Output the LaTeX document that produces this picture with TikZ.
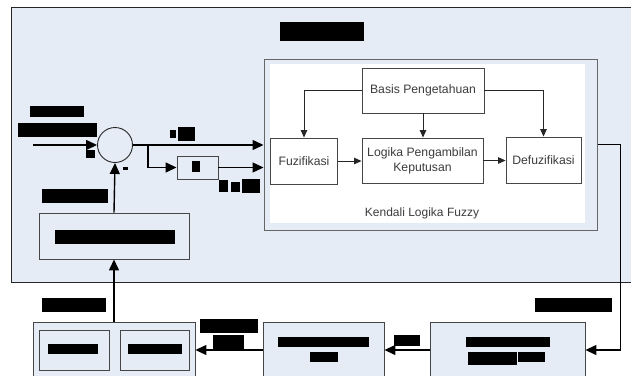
\documentclass[tikz,border=0pt]{standalone}
\usepackage{fontspec}
\setmainfont{Liberation Sans}
\usetikzlibrary{arrows.meta,positioning}
\definecolor{paneltint}{RGB}{230,236,246}
\definecolor{boxline}{RGB}{70,70,70}
\definecolor{txt}{RGB}{60,60,60}
\tikzset{
  bigarrow/.style={line width=1.4pt,-{Triangle[length=11pt,width=10pt]}},
  smallarrow/.style={line width=0.9pt,draw=black!85,-{Triangle[length=7.5pt,width=6.5pt]}},
  fuzzybox/.style={draw=boxline,line width=0.9pt,fill=white,inner sep=0pt,
    font=\fontsize{12.2}{15}\selectfont,text=txt,align=center},
  tintbox/.style={draw=boxline,line width=0.9pt,fill=paneltint,inner sep=0pt},
  redact/.style={fill=black}
}
\begin{document}
\begin{tikzpicture}[x=1pt,y=-1pt]
\useasboundingbox (0,0) rectangle (631,375);
\begin{scope}
\clip (0,0) rectangle (631,375);

% controller panel
\path[draw=black!85,line width=1pt,fill=paneltint] (11,7) rectangle (660,282);
\fill[redact] (280,22) rectangle (364,41);

% fuzzy logic controller block
\node[draw=black!60,line width=1pt,fill=paneltint,minimum width=333pt,minimum height=171pt,inner sep=0pt]
  (flc) at (430.5,144.5) {};
\fill[white] (270,64) rectangle (585,223);

\node[fuzzybox,minimum width=122pt,minimum height=45pt] (basis) at (423,90.5) {Basis Pengetahuan};
\node[fuzzybox,minimum width=67pt,minimum height=46pt] (fuzi) at (304,161) {Fuzifikasi};
\node[fuzzybox,minimum width=121pt,minimum height=45pt] (logika) at (422.5,160.5) {Logika Pengambilan\\Keputusan};
\node[fuzzybox,minimum width=75pt,minimum height=46pt] (defuzi) at (543.5,160) {Defuzifikasi};
\node[font=\fontsize{12}{14}\selectfont,text=txt] (kendali) at (422,213) {Kendali Logika Fuzzy};

\draw[smallarrow] (basis.west) -| (fuzi.north);
\draw[smallarrow] (basis.east) -| (defuzi.north);
\draw[smallarrow] (basis.south) -- (basis.south |- logika.north);
\draw[smallarrow] (fuzi.east) -- (fuzi.east -| logika.west);
\draw[smallarrow] (logika.east) -- (logika.east -| defuzi.west);

% summing junction and derivative
\node[circle,draw=black!85,line width=0.9pt,fill=paneltint,minimum size=35pt,inner sep=0pt] (sum) at (115,145) {};
\node[tintbox,minimum width=41pt,minimum height=23pt] (ddt) at (197.5,167.5) {};
\coordinate (in) at (33,145);
\coordinate (br) at (148,145);

\draw[bigarrow] (in) -- (sum.west);
\draw[bigarrow] (sum.east) -- (sum.east -| flc.west);
\draw[bigarrow] (br) |- (ddt.west);
\draw[bigarrow] (ddt.east) -- (ddt.east -| flc.west);

% feedback sensor block
\node[tintbox,minimum width=150pt,minimum height=46pt] (fb) at (114,236) {};
\draw[bigarrow] (fb.north) -- (sum.south);

% plant chain along the bottom
\node[tintbox,minimum width=162pt,minimum height=56pt] (bl) at (114,350) {};
\node[tintbox,minimum width=70pt,minimum height=40pt] (bla) at (74,350) {};
\node[tintbox,minimum width=69pt,minimum height=40pt] (blb) at (154.5,350) {};
\node[tintbox,minimum width=121pt,minimum height=56pt] (mid) at (323.5,350) {};
\node[tintbox,minimum width=155pt,minimum height=56pt] (rb) at (507.5,350) {};

\draw[bigarrow] (flc.east) -- ++(23,0) |- (rb.east);
\draw[bigarrow] (rb.west) -- (mid.east);
\draw[bigarrow] (mid.west) -- (bl.east);
\draw[bigarrow] (bl.north) -- (fb.south);

% blacked-out labels
\fill[redact] (30,106) rectangle (84,117);
\fill[redact] (18,123) rectangle (97,137);
\fill[redact] (86,150) rectangle (95,158);
\fill[redact] (123,167) rectangle (128,169.5);
\fill[redact] (170,130) rectangle (176,138);
\fill[redact] (178,127) rectangle (195,141);
\fill[redact] (192,161) rectangle (200,172);
\fill[redact] (219,180) rectangle (228,192);
\fill[redact] (231,182) rectangle (240,192);
\fill[redact] (242,179) rectangle (260,193);
\fill[redact] (42,189) rectangle (108,203);
\fill[redact] (55,230) rectangle (175,244);
\fill[redact] (42,298) rectangle (106,312);
\fill[redact] (48,344) rectangle (98,354);
\fill[redact] (128,344) rectangle (182,354);
\fill[redact] (200,319) rectangle (258,333);
\fill[redact] (213,335) rectangle (244,349);
\fill[redact] (278,337) rectangle (369,347);
\fill[redact] (310,352) rectangle (338,362);
\fill[redact] (394,335) rectangle (420,346);
\fill[redact] (466,337) rectangle (550,347);
\fill[redact] (468,352) rectangle (517,365);
\fill[redact] (518,352) rectangle (545,362);
\fill[redact] (535,298) rectangle (612,312);
\end{scope}
\end{tikzpicture}
\end{document}
